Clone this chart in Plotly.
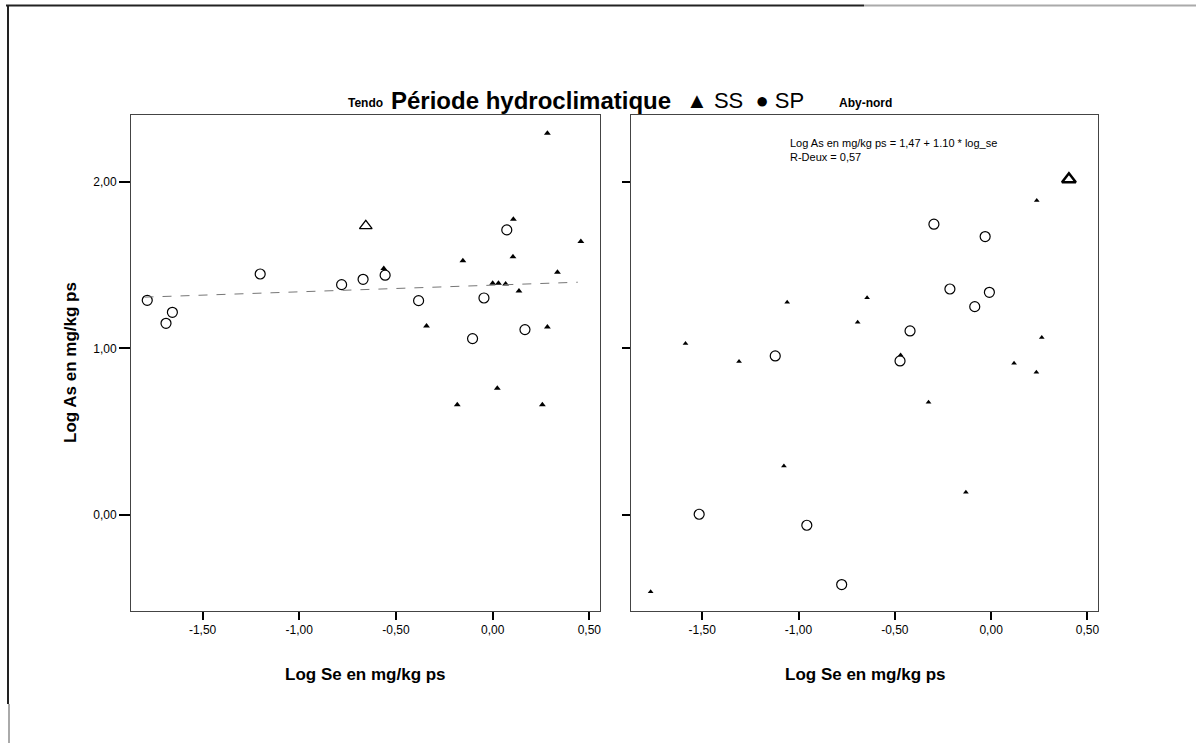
import plotly.graph_objects as go

W, H = 1196, 743

# ---------------- data ----------------
# Tendo panel
tendo_sp_x = [-1.786, -1.656, -1.689, -1.202, -0.781, -0.670, -0.556, -0.383, -0.045, 0.073, -0.104, 0.167]
tendo_sp_y = [1.289, 1.217, 1.151, 1.447, 1.383, 1.415, 1.440, 1.287, 1.303, 1.712, 1.059, 1.113]
tendo_ss_x = [0.283, 0.107, 0.456, -0.154, 0.105, 0.335, 0.000, 0.030, 0.067, 0.136, -0.342, 0.283, 0.024, -0.183, 0.257, -0.563]
tendo_ss_y = [2.292, 1.776, 1.642, 1.526, 1.550, 1.458, 1.392, 1.392, 1.387, 1.345, 1.135, 1.129, 0.761, 0.661, 0.661, 1.480]
tendo_open_x = [-0.656]
tendo_open_y = [1.736]
tendo_fit_intercept = 1.38
tendo_fit_slope = 0.04
tendo_fit_x = [-1.80, 0.44]

# Aby-nord panel
aby_sp_x = [-0.297, -0.031, -0.214, -0.009, -0.085, -0.421, -1.121, -0.473, -1.516, -0.957, -0.776]
aby_sp_y = [1.746, 1.672, 1.357, 1.337, 1.251, 1.105, 0.955, 0.925, 0.004, -0.062, -0.418]
aby_ss_x = [0.237, -1.059, -0.644, -0.693, -1.587, -1.309, 0.263, 0.119, 0.235, -0.325, -1.076, -0.131, -1.768, -0.470]
aby_ss_y = [1.888, 1.277, 1.305, 1.157, 1.029, 0.921, 1.065, 0.911, 0.857, 0.677, 0.294, 0.136, -0.462, 0.960]
aby_open_x = [0.404]
aby_open_y = [2.016]

x_tick_values = [-1.5, -1.0, -0.5, 0.0, 0.5]
x_tick_labels = ["-1,50", "-1,00", "-0,50", "0,00", "0,50"]
y_tick_values = [0.0, 1.0, 2.0]
y_tick_labels = ["0,00", "1,00", "2,00"]

panel_titles = ["Tendo", "Aby-nord"]
legend_title = "Période hydroclimatique"
legend_items = "▲ SS  ● SP"
x_title = "Log Se en mg/kg ps"
y_title = "Log As en mg/kg ps"
fit_text = "Log As en mg/kg ps = 1,47 + 1.10 * log_se<br>R-Deux = 0,57"

# ---------------- figure ----------------
FONT = "Arial, 'Liberation Sans', sans-serif"
px = lambda v: v / W
py = lambda v: 1 - v / H

fig = go.Figure()

circle = dict(symbol="circle-open", size=10, color="black", line=dict(width=1.2, color="black"))

fig.add_trace(go.Scatter(x=tendo_sp_x, y=tendo_sp_y, mode="markers", marker=circle,
                         xaxis="x", yaxis="y", name="SP", showlegend=False))
fig.add_trace(go.Scatter(x=tendo_ss_x, y=tendo_ss_y, mode="markers",
                         marker=dict(symbol="triangle-up", size=6, color="black"),
                         xaxis="x", yaxis="y", name="SS", showlegend=False))
fig.add_trace(go.Scatter(x=tendo_open_x, y=tendo_open_y, mode="markers",
                         marker=dict(symbol="triangle-up-open", size=11, color="black", line=dict(width=1.3)),
                         xaxis="x", yaxis="y", showlegend=False))
fit_y = [tendo_fit_intercept + tendo_fit_slope * v for v in tendo_fit_x]
fig.add_trace(go.Scatter(x=tendo_fit_x, y=fit_y, mode="lines",
                         line=dict(color="#777", width=1, dash="dash"),
                         xaxis="x", yaxis="y", showlegend=False))

fig.add_trace(go.Scatter(x=aby_sp_x, y=aby_sp_y, mode="markers", marker=circle,
                         xaxis="x2", yaxis="y2", name="SP", showlegend=False))
fig.add_trace(go.Scatter(x=aby_ss_x, y=aby_ss_y, mode="markers",
                         marker=dict(symbol="triangle-up", size=5, color="black"),
                         xaxis="x2", yaxis="y2", name="SS", showlegend=False))
fig.add_trace(go.Scatter(x=aby_open_x, y=aby_open_y, mode="markers",
                         marker=dict(symbol="triangle-up-open", size=12, color="black", line=dict(width=2.5)),
                         xaxis="x2", yaxis="y2", showlegend=False))

xr = [-1.87, 0.555]
yr = [-0.577, 2.402]
ydom = [py(611), py(115)]

xcommon = dict(range=xr, tickmode="array", tickvals=x_tick_values, ticktext=x_tick_labels,
               ticks="outside", ticklen=8, tickwidth=2, tickcolor="black",
               showline=True, mirror=True, linecolor="#444", linewidth=1,
               showgrid=False, zeroline=False,
               tickfont=dict(family=FONT, size=12, color="black"))
ycommon = dict(range=yr, tickmode="array", tickvals=y_tick_values, ticktext=y_tick_labels,
               ticks="outside", tickwidth=2, tickcolor="black",
               showline=True, mirror=True, linecolor="#444", linewidth=1,
               showgrid=False, zeroline=False,
               tickfont=dict(family=FONT, size=12, color="black"))

fig.update_layout(
    width=W, height=H,
    margin=dict(l=0, r=0, t=0, b=0),
    paper_bgcolor="white", plot_bgcolor="white",
    showlegend=False,
    xaxis=dict(domain=[px(131), px(600)], anchor="y", **xcommon),
    yaxis=dict(domain=ydom, anchor="x", ticklen=11, **ycommon),
    xaxis2=dict(domain=[px(631), px(1098)], anchor="y2", **xcommon),
    yaxis2=dict(domain=ydom, anchor="x2", ticklen=8, showticklabels=False, **ycommon),
)

ann = []
ann.append(dict(text="<b>" + legend_title + "</b>", x=px(389), y=py(100), xref="paper", yref="paper",
                xanchor="left", yanchor="middle", showarrow=False,
                font=dict(family=FONT, size=24, color="black")))
ann.append(dict(text=legend_items, x=px(684), y=py(100), xref="paper", yref="paper",
                xanchor="left", yanchor="middle", showarrow=False,
                font=dict(family=FONT, size=22, color="black")))
for t, cx in zip(panel_titles, [365, 865]):
    ann.append(dict(text="<b>" + t + "</b>", x=px(cx), y=py(103), xref="paper", yref="paper",
                    xanchor="center", yanchor="middle", showarrow=False,
                    font=dict(family=FONT, size=12, color="black")))
for cx in [365, 865]:
    ann.append(dict(text="<b>" + x_title + "</b>", x=px(cx), y=py(674), xref="paper", yref="paper",
                    xanchor="center", yanchor="middle", showarrow=False,
                    font=dict(family=FONT, size=17, color="black")))
ann.append(dict(text="<b>" + y_title + "</b>", x=px(70), y=py(363), xref="paper", yref="paper",
                xanchor="center", yanchor="middle", textangle=-90, showarrow=False,
                font=dict(family=FONT, size=17, color="black")))
ann.append(dict(text=fit_text, x=px(788), y=py(150), xref="paper", yref="paper",
                xanchor="left", yanchor="middle", align="left", showarrow=False,
                font=dict(family=FONT, size=11, color="black")))
fig.update_layout(annotations=ann)

# page border (scan frame)
shapes = [
    dict(type="line", xref="paper", yref="paper", x0=px(6), y0=py(5.5), x1=px(864), y1=py(5.5),
         line=dict(color="#222", width=2)),
    dict(type="line", xref="paper", yref="paper", x0=px(864), y0=py(5.5), x1=px(1196), y1=py(5.5),
         line=dict(color="#aaa", width=2)),
    dict(type="line", xref="paper", yref="paper", x0=px(8), y0=py(5), x1=px(8), y1=py(704),
         line=dict(color="#222", width=2)),
    dict(type="line", xref="paper", yref="paper", x0=px(9), y0=py(704), x1=px(9), y1=py(743),
         line=dict(color="#aaa", width=2)),
]
fig.update_layout(shapes=shapes)

fig.write_html("out.html", config={"displayModeBar": False},
               post_script="document.body.style.margin='0px';document.body.style.overflow='hidden';")
